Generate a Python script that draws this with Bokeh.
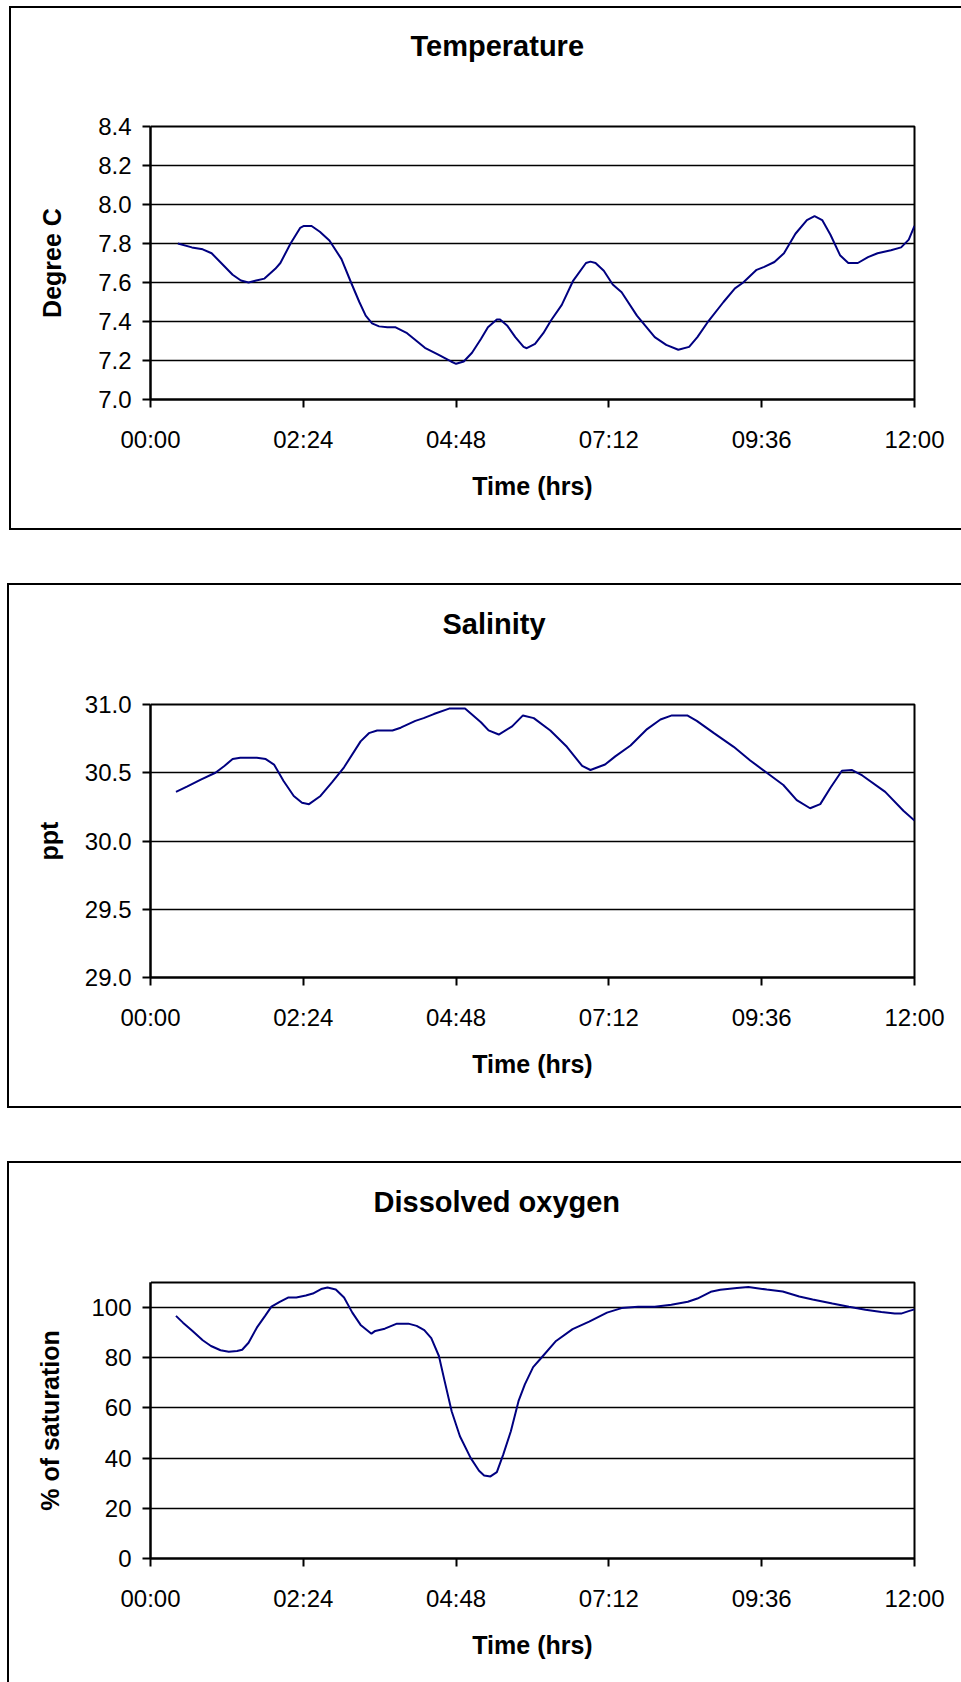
from bokeh.plotting import figure
from bokeh.layouts import column
from bokeh.models import FixedTicker, NumeralTickFormatter, Range1d, LinearAxis
from bokeh.embed import file_html
from bokeh.resources import INLINE

# ---------------- data ----------------
time_ticks = [0, 2.4, 4.8, 7.2, 9.6, 12.0]
time_tick_labels = ["00:00", "02:24", "04:48", "07:12", "09:36", "12:00"]

temp_hours = [0.43, 0.65, 0.82, 0.96, 1.11, 1.29, 1.42, 1.54, 1.66, 1.79,
              1.96, 2.04, 2.20, 2.35, 2.41, 2.53, 2.66, 2.81, 3.00, 3.15,
              3.28, 3.38, 3.48, 3.59, 3.72, 3.85, 4.03, 4.18, 4.31, 4.52,
              4.72, 4.80, 4.92, 5.05, 5.19, 5.30, 5.44, 5.49, 5.60, 5.73,
              5.86, 5.91, 6.04, 6.17, 6.29, 6.46, 6.64, 6.84, 6.91, 6.99,
              7.12, 7.26, 7.40, 7.64, 7.92, 8.10, 8.29, 8.46, 8.59, 8.77,
              9.00, 9.18, 9.31, 9.52, 9.64, 9.80, 9.95, 10.13, 10.31, 10.43,
              10.55, 10.68, 10.83, 10.96, 11.11, 11.27, 11.42, 11.63, 11.79, 11.91,
              12.0]
temp_values = [7.80, 7.78, 7.77, 7.75, 7.70, 7.64, 7.61, 7.60, 7.61, 7.62,
               7.67, 7.70, 7.80, 7.88, 7.89, 7.89, 7.86, 7.815, 7.72, 7.60,
               7.50, 7.43, 7.39, 7.375, 7.37, 7.37, 7.34, 7.30, 7.265, 7.23,
               7.195, 7.183, 7.195, 7.24, 7.31, 7.37, 7.41, 7.41, 7.38, 7.32,
               7.27, 7.263, 7.285, 7.34, 7.405, 7.485, 7.61, 7.70, 7.707, 7.70,
               7.66, 7.59, 7.55, 7.43, 7.32, 7.28, 7.255, 7.27, 7.32, 7.405,
               7.50, 7.57, 7.60, 7.665, 7.68, 7.705, 7.75, 7.85, 7.92, 7.94,
               7.92, 7.845, 7.74, 7.70, 7.70, 7.73, 7.75, 7.765, 7.78, 7.82,
               7.89]

sal_hours = [0.40, 0.58, 0.79, 1.02, 1.16, 1.29, 1.41, 1.67, 1.81, 1.94,
             2.09, 2.25, 2.38, 2.49, 2.67, 2.85, 3.04, 3.30, 3.43, 3.56,
             3.80, 3.93, 4.16, 4.29, 4.45, 4.69, 4.94, 5.19, 5.31, 5.47,
             5.68, 5.85, 6.02, 6.28, 6.54, 6.78, 6.91, 7.14, 7.30, 7.54,
             7.80, 8.01, 8.19, 8.43, 8.58, 8.85, 9.16, 9.42, 9.68, 9.94,
             10.15, 10.36, 10.52, 10.68, 10.86, 11.02, 11.18, 11.54, 11.83, 12.0]
sal_values = [30.36, 30.40, 30.45, 30.50, 30.55, 30.60, 30.61, 30.61, 30.60, 30.56,
              30.44, 30.33, 30.28, 30.27, 30.33, 30.43, 30.54, 30.73, 30.79, 30.81,
              30.81, 30.83, 30.88, 30.90, 30.93, 30.97, 30.97, 30.87, 30.81, 30.78,
              30.84, 30.92, 30.90, 30.81, 30.69, 30.55, 30.52, 30.56, 30.62, 30.70,
              30.82, 30.89, 30.92, 30.92, 30.88, 30.79, 30.69, 30.59, 30.50, 30.41,
              30.30, 30.24, 30.27, 30.39, 30.515, 30.52, 30.48, 30.36, 30.22, 30.15]

do_hours = [0.40, 0.51, 0.66, 0.82, 0.95, 1.10, 1.23, 1.36, 1.44, 1.54,
            1.67, 1.80, 1.90, 2.03, 2.16, 2.29, 2.44, 2.55, 2.68, 2.78,
            2.91, 3.04, 3.17, 3.30, 3.47, 3.53, 3.68, 3.87, 4.05, 4.18,
            4.30, 4.41, 4.53, 4.62, 4.73, 4.86, 5.03, 5.16, 5.24, 5.34,
            5.44, 5.54, 5.66, 5.78, 5.88, 6.01, 6.14, 6.37, 6.63, 6.89,
            7.17, 7.40, 7.66, 7.92, 8.18, 8.44, 8.59, 8.80, 8.95, 9.21,
            9.39, 9.68, 9.93, 10.19, 10.40, 10.71, 10.97, 11.23, 11.48, 11.69,
            11.79, 11.92, 12.0]
do_values = [96.7, 94.0, 90.7, 87.0, 84.7, 83.0, 82.4, 82.7, 83.2, 86.0,
             92.0, 96.7, 100.4, 102.3, 104.0, 104.0, 104.8, 105.6, 107.4, 108.0,
             107.2, 104.0, 98.0, 93.1, 89.6, 90.7, 91.6, 93.6, 93.6, 92.7,
             91.0, 87.8, 80.7, 70.7, 58.7, 48.7, 40.0, 35.0, 33.1, 32.7,
             34.4, 41.4, 50.7, 62.7, 69.4, 76.3, 80.0, 86.7, 91.4, 94.4,
             98.0, 99.8, 100.3, 100.3, 101.1, 102.3, 103.6, 106.3, 107.1, 107.8,
             108.2, 107.2, 106.4, 104.4, 103.2, 101.6, 100.3, 99.1, 98.2, 97.6,
             97.6, 98.7, 99.3]

temp_ticks = [7.0, 7.2, 7.4, 7.6, 7.8, 8.0, 8.2, 8.4]
sal_ticks = [29.0, 29.5, 30.0, 30.5, 31.0]
do_ticks = [0, 20, 40, 60, 80, 100]

FONT = "Liberation Sans"
LINE_COLOR = "#000080"
WIDTH = 961


def box_styles(left, top, bottom, thick=2):
    """CSS that paints the chart-area frame (left, top and optional bottom edge;
    the right edge lies outside the page)."""
    span_w = 3000
    images = ["linear-gradient(#000, #000)", "linear-gradient(#000, #000)"]
    sizes = [f"{span_w}px {thick}px", f"{thick}px {(bottom if bottom else 2000) - top}px"]
    positions = [f"{left}px {top}px", f"{left}px {top}px"]
    if bottom is not None:
        images.append("linear-gradient(#000, #000)")
        sizes.append(f"{span_w}px {thick}px")
        positions.append(f"{left}px {bottom - thick}px")
    return {
        "background-color": "white",
        "background-image": ", ".join(images),
        "background-size": ", ".join(sizes),
        "background-position": ", ".join(positions),
        "background-repeat": "no-repeat",
    }


def make_chart(title, ylabel, hours, values, y_range, y_ticks, y_fmt,
               height, borders, title_offset, title_gap, box, ylabel_standoff):
    bl, br, bt, bb = borders
    p = figure(width=WIDTH, height=height, output_backend="svg", toolbar_location=None,
               x_range=Range1d(0, 12), y_range=Range1d(*y_range),
               min_border_left=bl, min_border_right=br,
               min_border_top=bt, min_border_bottom=bb,
               background_fill_color="white", border_fill_alpha=0,
               title=title, styles=box_styles(*box))
    p.line(hours, values, line_color=LINE_COLOR, line_width=2)

    # blank spacer between the frame and the title (keeps the title higher up):
    # a single white tick at the left edge whose length reserves the room
    spacer = LinearAxis(ticker=FixedTicker(ticks=[time_ticks[0]]), axis_label=None,
                        major_label_overrides={time_ticks[0]: ""},
                        major_label_text_font_size="1px", major_label_standoff=0,
                        axis_line_color=None, major_tick_line_color="white",
                        major_tick_line_width=1,
                        major_tick_out=title_gap, major_tick_in=0,
                        minor_tick_out=0, minor_tick_in=0)
    p.add_layout(spacer, "above")

    p.title.align = "left"
    p.title.offset = title_offset
    p.title.standoff = 0
    p.title.text_font = FONT
    p.title.text_font_size = "29px"
    p.title.text_font_style = "bold"
    p.title.text_color = "black"

    p.outline_line_color = "black"
    p.outline_line_width = 2
    p.outline_line_alpha = 1

    p.xgrid.visible = False
    p.ygrid.ticker = FixedTicker(ticks=y_ticks)
    p.ygrid.grid_line_color = "black"
    p.ygrid.grid_line_width = 1.5
    p.ygrid.grid_line_alpha = 1

    xa = p.below[0]
    xa.ticker = FixedTicker(ticks=time_ticks)
    xa.major_label_overrides = {t: l for t, l in zip(time_ticks, time_tick_labels)}
    xa.axis_label = "Time (hrs)"
    xa.axis_label_standoff = 16
    xa.major_label_standoff = 18

    ya = p.left[0]
    ya.ticker = FixedTicker(ticks=y_ticks)
    ya.formatter = NumeralTickFormatter(format=y_fmt)
    ya.axis_label = ylabel
    ya.axis_label_standoff = ylabel_standoff
    ya.major_label_standoff = 11

    for ax in (xa, ya):
        ax.axis_line_color = "black"
        ax.axis_line_width = 2
        ax.major_tick_line_color = "black"
        ax.major_tick_line_width = 2
        ax.major_tick_out = 8
        ax.major_tick_in = 0
        ax.minor_tick_out = 0
        ax.minor_tick_in = 0
        ax.major_label_text_font = FONT
        ax.major_label_text_font_size = "24px"
        ax.major_label_text_color = "black"
        ax.axis_label_text_font = FONT
        ax.axis_label_text_font_size = "25px"
        ax.axis_label_text_font_style = "bold"
        ax.axis_label_text_color = "black"
    return p


p1 = make_chart("Temperature", "Degree C", temp_hours, temp_values, (7.0, 8.4),
                temp_ticks, "0.0", 556, (138, 47, 126, 157), 260, 65,
                (9, 6, 530), 29)
p2 = make_chart("Salinity", "ppt", sal_hours, sal_values, (29.0, 31.0),
                sal_ticks, "0.0", 578, (150, 47, 148, 157), 292, 65,
                (7, 27, 552), 19)
p3 = make_chart("Dissolved oxygen", "% of saturation", do_hours, do_values, (0, 110),
                do_ticks, "0", 548, (142, 44, 148, 124), 223, 65,
                (7, 27, None), 24)

layout = column(p1, p2, p3, spacing=0)
open("out.html", "w").write(file_html(layout, INLINE))
